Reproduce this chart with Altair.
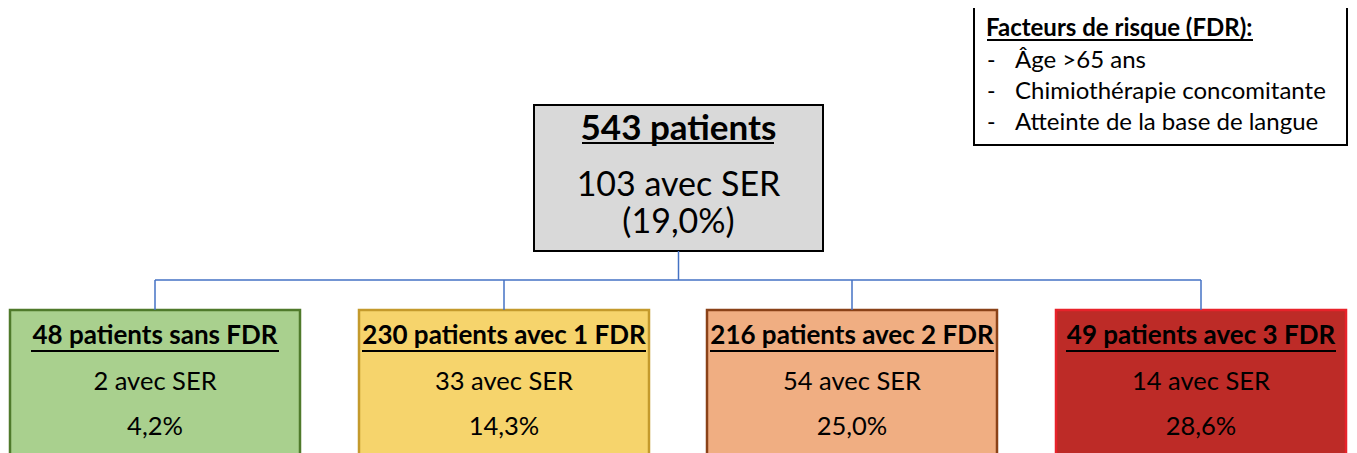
import altair as alt
import pandas as pd

# ---------------- content ----------------
top_title = "543 patients"
top_lines = ["103 avec SER", "(19,0%)"]
groups = ["48 patients sans FDR", "230 patients avec 1 FDR",
          "216 patients avec 2 FDR", "49 patients avec 3 FDR"]
ser_lines = ["2 avec SER", "33 avec SER", "54 avec SER", "14 avec SER"]
pct_lines = ["4,2%", "14,3%", "25,0%", "28,6%"]
fills = ["#a9d08e", "#f6d46c", "#f0ae82", "#bd2b27"]
strokes = ["#4f7a2b", "#c49a2c", "#8a4218", "#e8222a"]
legend_title = "Facteurs de risque (FDR):"
legend_items = ["Âge >65 ans", "Chimiothérapie concomitante",
                "Atteinte de la base de langue"]

# ---------------- layout (pixel grid of the figure) ----------------
W, H, M = 1357, 453, 8
X0, X1 = M, W - M          # visible plot area in page pixels
Y0, Y1 = M, H
FONT = "Lato"
box_x0 = [10, 359, 707, 1056]
box_w = 290
box_top = 310
box_bottom = 480
top_box = dict(x=534, x2=823, y=105, y2=251)
legend_box = dict(x=974, x2=1347, y=7, y2=145)
branch_y = 280
ul_w_bottom = [248, 284, 284, 270]

# boxes
rects = [dict(x=top_box["x"], x2=top_box["x2"], y=top_box["y"], y2=top_box["y2"],
              fill="#d9d9d9", stroke="#000000", sw=2),
         dict(x=legend_box["x"], x2=legend_box["x2"], y=legend_box["y"], y2=legend_box["y2"],
              fill="#ffffff", stroke="#000000", sw=2)]
for i in range(4):
    rects.append(dict(x=box_x0[i], x2=box_x0[i] + box_w, y=box_top, y2=box_bottom,
                      fill=fills[i], stroke=strokes[i], sw=2.5))
rect_df = pd.DataFrame(rects)

# connectors
cx_top = (top_box["x"] + top_box["x2"]) / 2
centers = [x + box_w / 2 for x in box_x0]
lines = [dict(x=cx_top, x2=cx_top, y=top_box["y2"], y2=branch_y),
         dict(x=centers[0], x2=centers[-1], y=branch_y, y2=branch_y)]
for c in centers:
    lines.append(dict(x=c, x2=c, y=branch_y, y2=box_top))
line_df = pd.DataFrame(lines)

# texts
bold = [dict(x=cx_top, y=129, t=top_title, s=35, a="center")]
reg = [dict(x=cx_top, y=186, t=top_lines[0], s=34, a="center"),
       dict(x=cx_top, y=223, t=top_lines[1], s=34, a="center")]
for i in range(4):
    bold.append(dict(x=centers[i], y=336, t=groups[i], s=26, a="center"))
    reg.append(dict(x=centers[i], y=382, t=ser_lines[i], s=25.5, a="center"))
    reg.append(dict(x=centers[i], y=427, t=pct_lines[i], s=25.5, a="center"))
bold.append(dict(x=986, y=29, t=legend_title, s=24, a="left"))
for j, item in enumerate(legend_items):
    yy = 61 + j * 31
    reg.append(dict(x=987, y=yy, t="-", s=23, a="left"))
    reg.append(dict(x=1015, y=yy, t=item, s=24, a="left"))
bold_df = pd.DataFrame(bold)
reg_df = pd.DataFrame(reg)

# underlines
uls = [dict(x=582, x2=774, y=143)]
for i in range(4):
    uls.append(dict(x=centers[i] - ul_w_bottom[i] / 2, x2=centers[i] + ul_w_bottom[i] / 2, y=351))
uls.append(dict(x=987, x2=1253, y=40))
ul_df = pd.DataFrame(uls)

xs = alt.Scale(domain=[X0, X1], nice=False, zero=False)
ys = alt.Scale(domain=[Y1, Y0], nice=False, zero=False)


def X(f="x"):
    return alt.X(f"{f}:Q", scale=xs, axis=None)


def Y(f="y"):
    return alt.Y(f"{f}:Q", scale=ys, axis=None)


rect_layer = alt.Chart(rect_df).mark_rect(clip=True).encode(
    x=X(), x2="x2:Q", y=Y(), y2="y2:Q",
    fill=alt.Fill("fill:N", scale=None),
    stroke=alt.Stroke("stroke:N", scale=None),
    strokeWidth=alt.StrokeWidth("sw:Q", scale=None),
)

line_layer = alt.Chart(line_df).mark_rule(color="#4472c4", strokeWidth=1.5).encode(
    x=X(), x2="x2:Q", y=Y(), y2="y2:Q")

ul_layer = alt.Chart(ul_df).mark_rule(color="#000000", strokeWidth=2).encode(
    x=X(), x2="x2:Q", y=Y())


def text_layer(df, weight):
    layers = []
    for a in ["center", "left"]:
        sub = df[df["a"] == a]
        if len(sub) == 0:
            continue
        layers.append(alt.Chart(sub).mark_text(
            font=FONT, fontWeight=weight, color="#000000", align=a, baseline="middle"
        ).encode(x=X(), y=Y(), text="t:N", size=alt.Size("s:Q", scale=None)))
    return layers


chart = alt.layer(
    rect_layer, line_layer, *text_layer(bold_df, "bold"), *text_layer(reg_df, "normal"), ul_layer
).properties(
    width=X1 - X0, height=Y1 - Y0, padding=0, autosize=alt.AutoSizeParams(type="none")
).configure(background="#ffffff").configure_view(stroke=None)

chart.save("out.html", embed_options={"renderer": "svg", "actions": False})
